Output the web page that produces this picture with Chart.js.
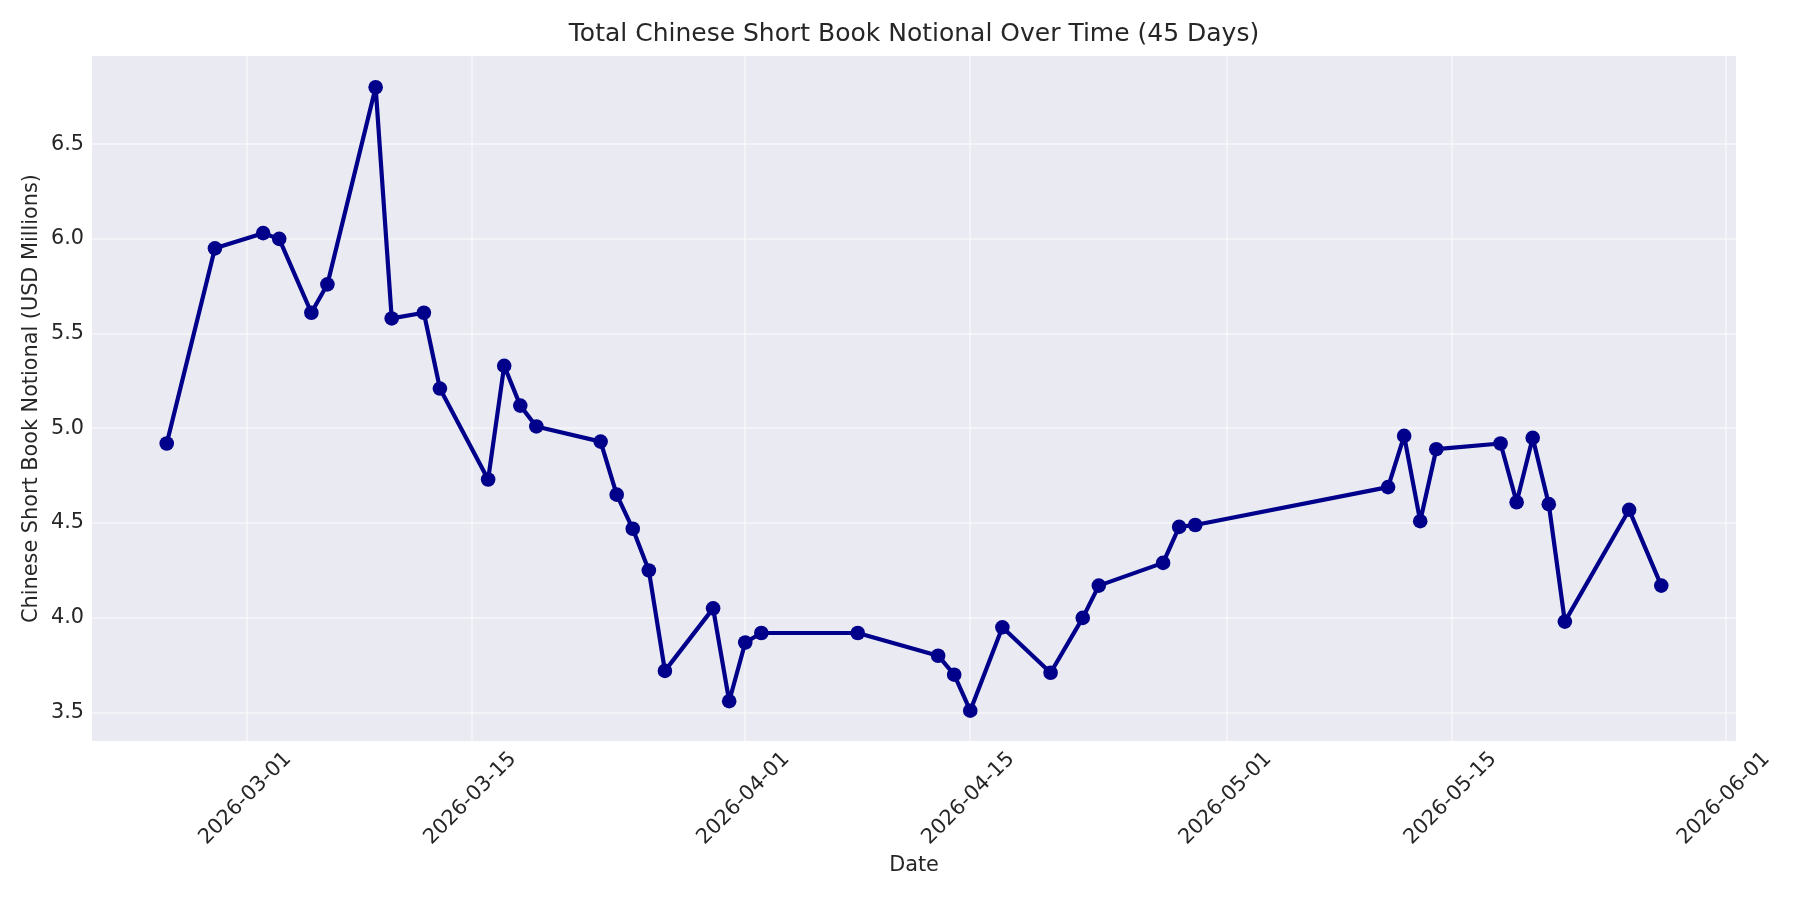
<!DOCTYPE html>
<html>
<head>
<meta charset="utf-8">
<script src="https://cdn.jsdelivr.net/npm/chart.js@4.4.1/dist/chart.umd.min.js"></script>
<style>
  html, body { margin: 0; padding: 0; background: #ffffff; }
  #wrap { width: 1800px; height: 900px; }
</style>
</head>
<body>
<div id="wrap"><canvas id="c" width="1800" height="900"></canvas></div>
<script>
const dates = [
  '2026-02-24','2026-02-27','2026-03-02','2026-03-03','2026-03-05','2026-03-06','2026-03-09','2026-03-10','2026-03-12','2026-03-13',
  '2026-03-16','2026-03-17','2026-03-18','2026-03-19','2026-03-23','2026-03-24','2026-03-25','2026-03-26','2026-03-27','2026-03-30',
  '2026-03-31','2026-04-01','2026-04-02','2026-04-08','2026-04-13','2026-04-14','2026-04-15','2026-04-17','2026-04-20','2026-04-22',
  '2026-04-23','2026-04-27','2026-04-28','2026-04-29','2026-05-11','2026-05-12','2026-05-13','2026-05-14','2026-05-18','2026-05-19',
  '2026-05-20','2026-05-21','2026-05-22','2026-05-26','2026-05-28'
];
const notional = [
  4.92, 5.95, 6.03, 6.00, 5.61, 5.76, 6.80, 5.58, 5.61, 5.21,
  4.73, 5.33, 5.12, 5.01, 4.93, 4.65, 4.47, 4.25, 3.72, 4.05,
  3.56, 3.87, 3.92, 3.92, 3.80, 3.70, 3.51, 3.95, 3.71, 4.00,
  4.17, 4.29, 4.48, 4.49, 4.69, 4.96, 4.51, 4.89, 4.92, 4.61,
  4.95, 4.60, 3.98, 4.57, 4.17
];
const xTickDates = ['2026-03-01','2026-03-15','2026-04-01','2026-04-15','2026-05-01','2026-05-15','2026-06-01'];
const yTicks = [3.5, 4.0, 4.5, 5.0, 5.5, 6.0, 6.5];
const xRange = ['2026-02-19.35', '2026-06-01.65'];
const yRange = [3.35, 6.965];

const titleText = 'Total Chinese Short Book Notional Over Time (45 Days)';
const xTitle = 'Date';
const yTitle = 'Chinese Short Book Notional (USD Millions)';

function dayNum(s) {
  const [y, m, dRaw] = s.split('-');
  const d = parseFloat(dRaw);
  return Date.UTC(+y, +m - 1, 1) / 86400000 + (d - 1);
}
function fmtDay(n) {
  const dt = new Date(Math.round(n) * 86400000);
  const p = v => String(v).padStart(2, '0');
  return dt.getUTCFullYear() + '-' + p(dt.getUTCMonth() + 1) + '-' + p(dt.getUTCDate());
}

const points = dates.map((d, i) => ({ x: dayNum(d), y: notional[i] }));

const FONT = 'DejaVu Sans';
const TXT = '#262626';

const bgPlugin = {
  id: 'plotBg',
  beforeDraw(chart) {
    const { ctx, chartArea: a } = chart;
    ctx.save();
    ctx.fillStyle = '#EAEAF2';
    ctx.fillRect(a.left, a.top, a.right - a.left, a.bottom - a.top);
    ctx.restore();
  }
};

new Chart(document.getElementById('c'), {
  type: 'line',
  data: {
    datasets: [{
      data: points,
      borderColor: '#00008B',
      backgroundColor: '#00008B',
      borderWidth: 4.2,
      borderJoinStyle: 'round',
      borderCapStyle: 'round',
      pointRadius: 7.3,
      pointHoverRadius: 7.3,
      pointBackgroundColor: '#00008B',
      pointBorderWidth: 0,
      tension: 0,
      fill: false
    }]
  },
  plugins: [bgPlugin],
  options: {
    responsive: false,
    devicePixelRatio: 1,
    animation: false,
    layout: { padding: { left: 0, right: 64, top: 0, bottom: 0 } },
    plugins: {
      legend: { display: false },
      tooltip: { enabled: false },
      title: {
        display: true,
        text: titleText,
        fullSize: false,
        color: TXT,
        font: { family: FONT, size: 25, weight: 'normal' },
        padding: { top: 19, bottom: 7 }
      }
    },
    scales: {
      x: {
        type: 'linear',
        min: dayNum(xRange[0]),
        max: dayNum(xRange[1]),
        afterBuildTicks(scale) {
          scale.ticks = xTickDates.map(d => ({ value: dayNum(d) }));
        },
        afterFit(scale) { scale.height = 159; },
        grid: { color: 'rgba(255,255,255,0.45)', lineWidth: 2, drawTicks: false },
        border: { display: false },
        ticks: {
          autoSkip: false,
          minRotation: 45,
          maxRotation: 45,
          labelOffset: 41,
          padding: 6,
          color: TXT,
          font: { family: FONT, size: 20.8 },
          callback: v => fmtDay(v)
        },
        title: {
          display: true,
          text: xTitle,
          color: TXT,
          font: { family: FONT, size: 20.8 },
          padding: { top: 0, bottom: 22 }
        }
      },
      y: {
        min: yRange[0],
        max: yRange[1],
        afterBuildTicks(scale) {
          scale.ticks = yTicks.map(v => ({ value: v }));
        },
        afterFit(scale) { scale.width = 92; },
        grid: { color: 'rgba(255,255,255,0.45)', lineWidth: 2, drawTicks: false },
        border: { display: false },
        ticks: {
          padding: 8,
          color: TXT,
          font: { family: FONT, size: 20.8 },
          callback: v => Number(v).toFixed(1)
        },
        title: {
          display: true,
          text: yTitle,
          color: TXT,
          font: { family: FONT, size: 20.8 },
          padding: { top: 19, bottom: 0 }
        }
      }
    }
  }
});
</script>
</body>
</html>
